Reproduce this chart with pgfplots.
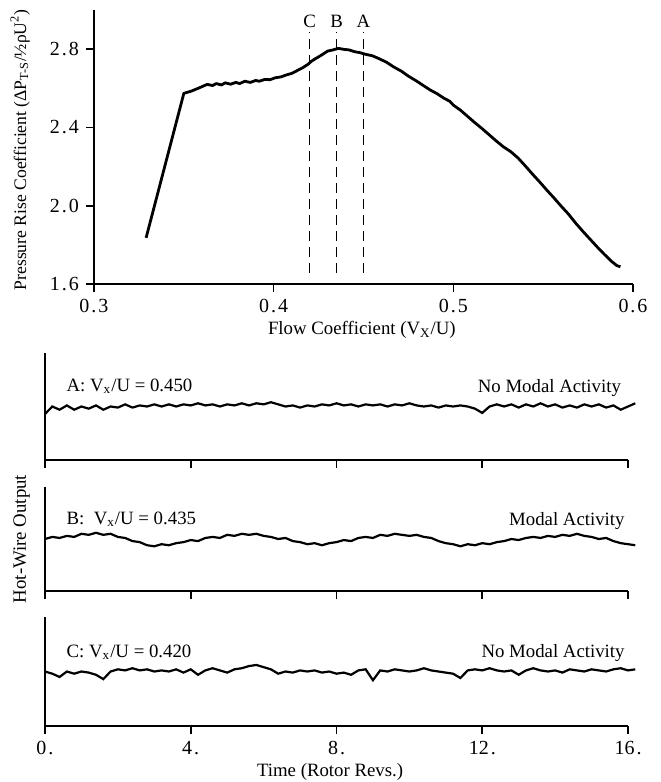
\documentclass[border=0pt]{standalone}
\usepackage{fontspec}
\setmainfont{Liberation Serif}
\usepackage{pgfplots}
\pgfplotsset{compat=1.18}

\newcommand\lbl{\fontsize{9.4}{11}\selectfont}
\newcommand\tkl{\fontsize{10}{12}\selectfont}

\pgfplotsset{
  oldstyle/.style={
    scale only axis, clip=false,
    axis x line=bottom, axis y line=left,
    axis line style={-, line width=0.9pt},
    tick align=outside, major tick length=4pt,
    tick style={black, line width=0.8pt},
    tick label style={font=\tkl},
    label style={font=\lbl},
    /pgf/number format/assume math mode=true,
  },
  panel/.style={
    oldstyle, width=291.5pt,
    xmin=0, xmax=16, ymin=0, ymax=1,
    ytick=\empty, xtick={0,4,8,12,16},
  },
  sig/.style={black, line width=1.1pt},
}

\begin{document}
\begin{tikzpicture}
\path[use as bounding box] (-47pt,142pt) rectangle (283pt,-249pt);

% performance characteristic
\begin{axis}[oldstyle, at={(0,0)}, anchor=south west,
  width=269.5pt, height=137pt,
  xmin=0.3, xmax=0.6, ymin=1.6, ymax=3.0,
  xtick={0.3,0.4,0.5,0.6},
  xticklabels={0\kern1pt.\kern1pt3,0\kern1pt.\kern1pt4,0\kern1pt.\kern1pt5,0\kern1pt.\kern1pt6},
  ytick={1.6,2.0,2.4,2.8},
  yticklabels={1\kern1pt.\kern1pt6,2\kern1pt.\kern1pt0,2\kern1pt.\kern1pt4,2\kern1pt.\kern1pt8},
  xlabel={Flow Coefficient (V\textsubscript{X}/U)},
  ylabel={Pressure Rise Coefficient (ΔP\textsubscript{T-S}/½ρU\textsuperscript{2})},
  xlabel style={at={(axis description cs:0.497,-0.168)}, anchor=center},
  ylabel style={at={(axis description cs:-0.137,0.49)}, anchor=center,
    font=\fontsize{8.8}{10}\selectfont},
]
\addplot[black, line width=1.4pt, line join=round] coordinates {
(0.329,1.836) (0.350,2.574) (0.354,2.585) (0.358,2.600) (0.361,2.612)
(0.363,2.620) (0.366,2.614) (0.368,2.624) (0.371,2.617) (0.373,2.628)
(0.376,2.621) (0.379,2.630) (0.381,2.624) (0.384,2.636) (0.387,2.630)
(0.390,2.640) (0.392,2.636) (0.395,2.645) (0.398,2.644) (0.401,2.654)
(0.404,2.658) (0.407,2.668) (0.410,2.676) (0.413,2.690) (0.416,2.704)
(0.419,2.722) (0.421,2.738) (0.423,2.750) (0.426,2.766) (0.428,2.778)
(0.430,2.790) (0.433,2.796) (0.436,2.804) (0.439,2.799) (0.442,2.796)
(0.445,2.787) (0.448,2.782) (0.451,2.774) (0.455,2.766) (0.459,2.750)
(0.463,2.732) (0.467,2.708) (0.471,2.688) (0.475,2.662) (0.479,2.640)
(0.483,2.616) (0.487,2.592) (0.491,2.572) (0.495,2.548) (0.498,2.534)
(0.500,2.514) (0.504,2.488) (0.508,2.456) (0.512,2.424) (0.516,2.394)
(0.520,2.362) (0.524,2.330) (0.528,2.300) (0.532,2.276) (0.536,2.244)
(0.540,2.204) (0.544,2.162) (0.548,2.122) (0.552,2.080) (0.556,2.040)
(0.560,1.998) (0.564,1.958) (0.568,1.912) (0.572,1.870) (0.576,1.830)
(0.580,1.790) (0.584,1.752) (0.588,1.716) (0.591,1.694) (0.593,1.688)
};
\addplot[black, line width=0.8pt, dash pattern=on 5pt off 3pt] coordinates {(0.420,1.656) (0.420,2.887)};
\addplot[black, line width=0.8pt, dash pattern=on 5pt off 3pt] coordinates {(0.435,1.656) (0.435,2.887)};
\addplot[black, line width=0.8pt, dash pattern=on 5pt off 3pt] coordinates {(0.450,1.656) (0.450,2.887)};
\node[font=\lbl] at (axis cs:0.420,2.94) {C};
\node[font=\lbl] at (axis cs:0.435,2.94) {B};
\node[font=\lbl] at (axis cs:0.450,2.94) {A};
\end{axis}

% hot-wire traces
\begin{axis}[panel, at={(-24.5pt,-88pt)}, anchor=south west, height=53.5pt,
  xticklabels={}]
\addplot[sig] coordinates {
(0.0,0.43) (0.2,0.50) (0.4,0.47) (0.6,0.51) (0.8,0.47) (1.0,0.50) (1.2,0.48)
(1.4,0.51) (1.6,0.47) (1.8,0.50) (2.0,0.49) (2.2,0.52) (2.4,0.49) (2.6,0.51)
(2.8,0.50) (3.0,0.52) (3.2,0.50) (3.4,0.52) (3.6,0.50) (3.8,0.52) (4.0,0.51)
(4.2,0.53) (4.4,0.51) (4.6,0.52) (4.8,0.50) (5.0,0.52) (5.2,0.51) (5.4,0.53)
(5.6,0.51) (5.8,0.53) (6.0,0.52) (6.2,0.54) (6.4,0.52) (6.6,0.50) (6.8,0.51)
(7.0,0.49) (7.2,0.51) (7.4,0.50) (7.6,0.52) (7.8,0.51) (8.0,0.53) (8.2,0.51)
(8.4,0.52) (8.6,0.50) (8.8,0.52) (9.0,0.51) (9.2,0.52) (9.4,0.50) (9.6,0.52)
(9.8,0.51) (10.0,0.53) (10.2,0.51) (10.4,0.50) (10.6,0.51) (10.8,0.49)
(11.0,0.51) (11.2,0.50) (11.4,0.51) (11.6,0.50) (11.8,0.48) (12.0,0.44)
(12.2,0.50) (12.4,0.52) (12.6,0.50) (12.8,0.52) (13.0,0.49) (13.2,0.52)
(13.4,0.50) (13.6,0.53) (13.8,0.50) (14.0,0.52) (14.2,0.49) (14.4,0.51)
(14.6,0.49) (14.8,0.52) (15.0,0.50) (15.2,0.52) (15.4,0.49) (15.6,0.51)
(15.8,0.47) (16.0,0.50) (16.2,0.53)
};
\node[font=\lbl, anchor=base west] at (axis cs:0.4,0.64) {A: V\textsubscript{x}/U = 0.450};
\node[font=\lbl, anchor=base east] at (axis cs:16.0,0.63) {No Modal Activity};
\end{axis}

\begin{axis}[panel, at={(-24.5pt,-153.5pt)}, anchor=south west, height=52pt,
  xticklabels={},
  ylabel={Hot-Wire Output},
  ylabel style={at={(axis description cs:-0.04,0.5)}, anchor=center}]
\addplot[sig] coordinates {
(0.0,0.50) (0.2,0.52) (0.4,0.51) (0.6,0.53) (0.8,0.52) (1.0,0.55) (1.2,0.54)
(1.4,0.56) (1.6,0.54) (1.8,0.55) (2.0,0.52) (2.2,0.51) (2.4,0.48) (2.6,0.47)
(2.8,0.44) (3.0,0.43) (3.2,0.45) (3.4,0.44) (3.6,0.46) (3.8,0.47) (4.0,0.49)
(4.2,0.48) (4.4,0.51) (4.6,0.52) (4.8,0.51) (5.0,0.54) (5.2,0.53) (5.4,0.55)
(5.6,0.54) (5.8,0.55) (6.0,0.53) (6.2,0.52) (6.4,0.50) (6.6,0.51) (6.8,0.48)
(7.0,0.47) (7.2,0.45) (7.4,0.46) (7.6,0.44) (7.8,0.46) (8.0,0.47) (8.2,0.49)
(8.4,0.48) (8.6,0.51) (8.8,0.52) (9.0,0.51) (9.2,0.54) (9.4,0.53) (9.6,0.55)
(9.8,0.54) (10.0,0.53) (10.2,0.54) (10.4,0.52) (10.6,0.51) (10.8,0.48)
(11.0,0.46) (11.2,0.45) (11.4,0.43) (11.6,0.45) (11.8,0.44) (12.0,0.46)
(12.2,0.45) (12.4,0.47) (12.6,0.48) (12.8,0.50) (13.0,0.49) (13.2,0.51)
(13.4,0.52) (13.6,0.51) (13.8,0.53) (14.0,0.52) (14.2,0.54) (14.4,0.53)
(14.6,0.55) (14.8,0.53) (15.0,0.52) (15.2,0.50) (15.4,0.51) (15.6,0.48)
(15.8,0.46) (16.0,0.45) (16.2,0.44)
};
\node[font=\lbl, anchor=base west] at (axis cs:0.4,0.64) {B:\ \ V\textsubscript{x}/U = 0.435};
\node[font=\lbl, anchor=base east] at (axis cs:16.1,0.63) {Modal Activity};
\end{axis}

\begin{axis}[panel, at={(-24.5pt,-221pt)}, anchor=south west, height=54.5pt,
  xticklabels={0\kern1pt.,4\kern1pt.,8\kern1pt.,12\kern1pt.,16\kern1pt.},
  xlabel={Time (Rotor Revs.)},
  xlabel style={at={(axis description cs:0.489,-0.42)}, anchor=center}]
\addplot[sig] coordinates {
(0.0,0.50) (0.2,0.48) (0.4,0.45) (0.6,0.50) (0.8,0.48) (1.0,0.50) (1.2,0.49)
(1.4,0.47) (1.6,0.43) (1.8,0.50) (2.0,0.52) (2.2,0.51) (2.4,0.53) (2.6,0.51)
(2.8,0.52) (3.0,0.50) (3.2,0.51) (3.4,0.50) (3.6,0.52) (3.8,0.49) (4.0,0.52)
(4.2,0.47) (4.4,0.51) (4.6,0.53) (4.8,0.51) (5.0,0.49) (5.2,0.52) (5.4,0.53)
(5.6,0.55) (5.8,0.56) (6.0,0.54) (6.2,0.52) (6.4,0.48) (6.6,0.50) (6.8,0.49)
(7.0,0.51) (7.2,0.50) (7.4,0.51) (7.6,0.49) (7.8,0.50) (8.0,0.48) (8.2,0.49)
(8.4,0.47) (8.6,0.51) (8.8,0.52) (9.0,0.42) (9.2,0.51) (9.4,0.50) (9.6,0.52)
(9.8,0.51) (10.0,0.50) (10.2,0.51) (10.4,0.53) (10.6,0.51) (10.8,0.50)
(11.0,0.49) (11.2,0.48) (11.4,0.44) (11.6,0.51) (11.8,0.52) (12.0,0.51)
(12.2,0.53) (12.4,0.51) (12.6,0.50) (12.8,0.51) (13.0,0.47) (13.2,0.51)
(13.4,0.53) (13.6,0.51) (13.8,0.50) (14.0,0.51) (14.2,0.49) (14.4,0.52)
(14.6,0.51) (14.8,0.50) (15.0,0.52) (15.2,0.51) (15.4,0.50) (15.6,0.52)
(15.8,0.53) (16.0,0.51) (16.2,0.52)
};
\node[font=\lbl, anchor=base west] at (axis cs:0.4,0.63) {C: V\textsubscript{x}/U = 0.420};
\node[font=\lbl, anchor=base east] at (axis cs:16.1,0.63) {No Modal Activity};
\end{axis}
\end{tikzpicture}
\end{document}
